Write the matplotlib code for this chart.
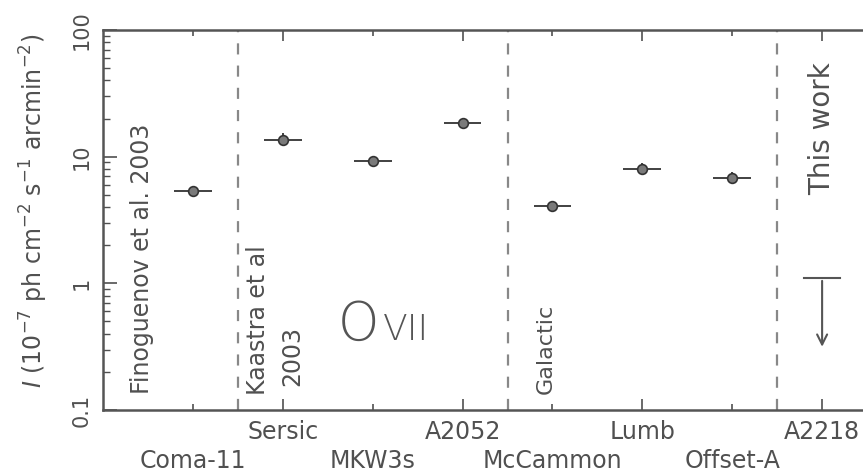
import matplotlib
matplotlib.use('Agg')
import matplotlib.pyplot as plt
import numpy as np

# data
names = ['Coma-11', 'Sersic', 'MKW3s', 'A2052', 'McCammon', 'Lumb', 'Offset-A', 'A2218']
vals = [5.35, 13.6, 9.2, 18.4, 4.07, 8.04, 6.83]
yerr_lo = [0.4, 1.3, 0.6, 1.3, 0.35, 0.8, 0.7]
yerr_hi = [0.4, 1.8, 0.6, 1.3, 0.35, 0.9, 0.8]
upper_limit = 1.1
arrow_end = 0.3
group_edges = [0.5, 3.5, 6.5]

grey = '#505050'
plt.rcParams['font.family'] = ['DejaVu Sans']

fig = plt.figure(figsize=(8.63, 4.73), dpi=100)
# axes runs past the right edge, as in the cropped original
ax = fig.add_axes([103/863, 1 - 410/473, (912 - 103)/863, 380/473])

pos = np.arange(len(names))
x = pos[:len(vals)]
ax.errorbar(x, vals, xerr=0.21, yerr=[yerr_lo, yerr_hi], fmt='o', ms=7,
            mfc='#7a7a7a', mec='#333333', mew=1.2, ecolor='#333333',
            elinewidth=1.3, capsize=0)

# upper limit for A2218
xl = pos[-1]
ax.plot([xl - 0.2, xl + 0.2], [upper_limit, upper_limit], color='#555555', lw=1.5)
ax.annotate('', xy=(xl, arrow_end), xytext=(xl, upper_limit),
            arrowprops=dict(arrowstyle='->', color='#555555', lw=1.5,
                            mutation_scale=18))

for e in group_edges:
    ax.axvline(e, color='#888888', lw=1.6, dashes=(5, 5))

ax.set_yscale('log')
ax.set_ylim(0.1, 100)
ax.set_xlim(-1, 8)

ax.set_xticks(pos[1::2])
ax.set_xticklabels(names[1::2])
ax.set_xticks(pos[0::2], minor=True)
ax.set_xticklabels(names[0::2], minor=True)
ax.tick_params(axis='x', which='major', direction='in', length=8, width=1.2,
               top=True, pad=7, labelsize=17, colors=grey)
ax.tick_params(axis='x', which='minor', direction='in', length=4, width=1.2,
               top=True, pad=28, labelsize=17, colors=grey)

ax.set_yticks([0.1, 1, 10, 100])
ax.set_yticklabels(['0.1', '1', '10', '100'], rotation=90, va='center')
ax.tick_params(axis='y', which='major', direction='in', length=10, width=1.2,
               right=True, pad=8, labelsize=15, colors=grey)
ax.tick_params(axis='y', which='minor', direction='in', length=5, width=1.0,
               right=True, colors=grey)

for s in ax.spines.values():
    s.set_color('#555555')
    s.set_linewidth(1.8)

ax.set_ylabel(r'$I$ ($10^{-7}$ ph cm$^{-2}$ s$^{-1}$ arcmin$^{-2}$)',
              fontsize=17, color=grey)
ax.yaxis.set_label_coords(-0.066, 0.525)

txt = dict(rotation=90, color=grey, ha='center', va='bottom')
ax.text(-0.566, 0.133, 'Finoguenov et al. 2003', fontsize=17, **txt)
ax.text(0.724, 0.131, 'Kaastra et al', fontsize=17, **txt)
ax.text(1.10, 0.155, '2003', fontsize=17, **txt)
ax.text(3.92, 0.134, 'Galactic', fontsize=16, **txt)
ax.text(7.0, 4.95, 'This work', fontsize=20, **txt)
ax.text(1.614, 0.355, 'O', ha='left', va='baseline', fontsize=38,
        color='#555555', fontweight='light')
ax.text(2.115, 0.355, 'VII', ha='left', va='baseline', fontsize=26,
        color='#555555', fontweight='light')

fig.savefig('out.png', dpi=100)
